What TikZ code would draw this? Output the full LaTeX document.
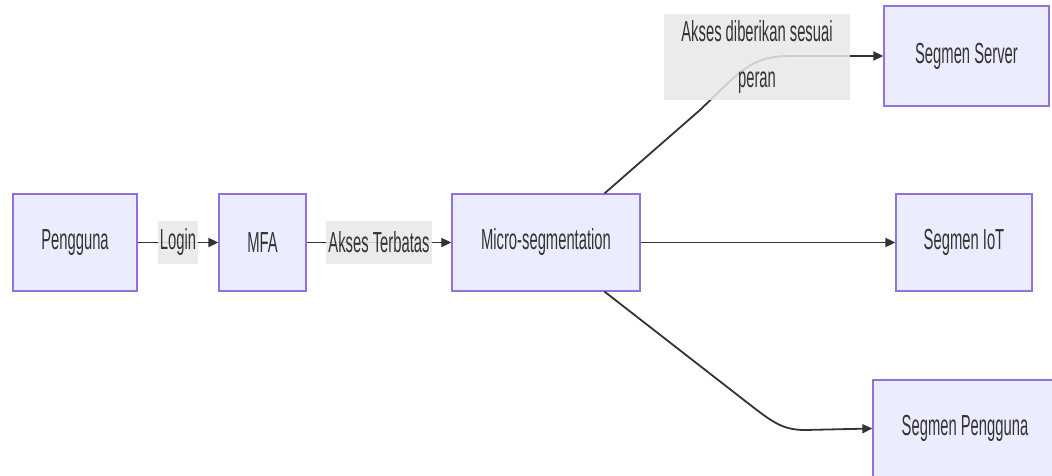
\documentclass[tikz,border=0pt]{standalone}
\usepackage{fontspec}
\setmainfont{Liberation Sans}[FakeStretch=0.51]
\usepackage{xcolor}
\usepackage{tikz}
\usetikzlibrary{arrows.meta, positioning}
\definecolor{boxfill}{HTML}{ECECFF}
\definecolor{boxline}{HTML}{9370DB}
\definecolor{edgeline}{HTML}{333333}
\definecolor{lblfill}{HTML}{E8E8E8}

\begin{document}
\begin{tikzpicture}[x=1pt, y=-1pt,
    box/.style={draw=boxline, fill=boxfill, line width=1.3pt, text=edgeline, font=\fontsize{29}{34}\selectfont, inner sep=0pt, minimum height=97pt},
    lbl/.style={fill=lblfill, fill opacity=0.85, text opacity=1, text=edgeline, font=\fontsize{29}{34}\selectfont, inner sep=2pt, minimum height=43pt},
    edge/.style={draw=edgeline, line width=1.8pt, -{Triangle[length=10pt,width=9pt]}}]
    \useasboundingbox (0,0) rectangle (1052,476);

    \node[box, minimum width=124pt] (pengguna) at (75,242.5) {Pengguna};
    \node[box, minimum width=87pt] (mfa) at (262.5,242.5) {MFA};
    \node[box, minimum width=188pt] (micro) at (546,242.5) {Micro-segmentation};
    \node[box, minimum width=165pt, minimum height=100pt] (server) at (966.5,56) {Segmen Server};
    \node[box, minimum width=136pt] (iot) at (964,242.5) {Segmen IoT};
    \node[box, minimum width=184pt] (segpengguna) at (965,428.5) {Segmen Pengguna};

    \coordinate (upA) at (700,110);
    \coordinate (upB) at (790,56);
    \coordinate (downA) at (740,397);
    \coordinate (downB) at (805,430);

    \draw[edge] (pengguna) -- node[lbl, midway, minimum width=37pt] (loginlbl) {Login} (mfa);
    \draw[edge] (mfa) -- node[lbl, midway, minimum width=101pt] (terbataslbl) {Akses Terbatas} (micro);
    \draw[edge] (micro.40) -- (upA) .. controls (740,72) and (750,56) .. (upB) -- (server.west);
    \draw[edge] (micro) -- (iot);
    \draw[edge] (micro.-40) -- (downA) .. controls (770,420) and (780,430) .. (downB) -- (segpengguna.west);

    \node[lbl, align=center, minimum width=186pt, minimum height=86pt, font=\fontsize{29}{46}\selectfont] (peranlbl) at (757,57) {Akses diberikan sesuai\\peran};
\end{tikzpicture}
\end{document}
